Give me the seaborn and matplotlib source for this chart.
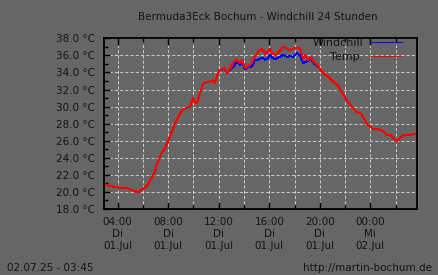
import matplotlib
matplotlib.use("Agg")
import matplotlib.pyplot as plt
import seaborn as sns
import pandas as pd
from matplotlib.ticker import FixedLocator, FuncFormatter

# ---- data (hours since 01.Jul 00:00) ----
hours = [3.00, 3.40, 3.79, 4.19, 4.74, 4.98, 5.30, 5.61, 5.77, 5.93, 6.17, 6.41, 6.57, 6.81,
         6.96, 7.12, 7.36, 7.59, 7.75, 8.15, 8.54, 8.94, 9.17, 9.41, 9.73, 9.97, 10.12, 10.28,
         10.52, 10.76, 11.07, 11.31, 11.55, 11.71, 11.94, 12.10, 12.50, 12.66, 12.89, 13.13,
         13.44, 13.68, 13.84, 14.08, 14.31, 14.63, 14.87, 15.11, 15.43, 15.66, 15.90, 16.06,
         16.29, 16.53, 16.85, 17.09, 17.40, 17.64, 17.88, 18.19, 18.43, 18.67, 18.83, 19.07,
         19.31, 19.56, 19.80, 20.04, 20.44, 20.67, 21.07, 21.39, 21.62, 21.86, 22.10, 22.41,
         22.65, 22.89, 23.20, 23.44, 23.60, 23.76, 24.00, 24.23, 24.63, 25.03, 25.26, 25.58,
         25.82, 26.06, 26.22, 26.46, 26.69, 27.17, 27.56]
temp = [20.9, 20.7, 20.55, 20.5, 20.45, 20.3, 20.15, 19.95, 20.1, 20.3, 20.5, 20.85, 21.4, 21.9,
        22.4, 23.3, 24.15, 24.8, 25.1, 26.5, 28.0, 29.2, 29.6, 29.8, 30.0, 31.0, 30.4, 30.4,
        31.6, 32.7, 32.9, 32.9, 33.1, 32.8, 33.9, 34.3, 34.5, 33.9, 34.4, 35.1,
        35.5, 35.1, 35.5, 34.5, 34.7, 35.1, 35.85, 36.4, 36.8, 36.2, 36.4, 36.8,
        36.2, 36.0, 36.6, 37.0, 36.8, 36.6, 36.8, 36.9, 36.9, 35.6, 36.0, 35.5,
        35.8, 35.2, 34.9, 34.3, 33.7, 33.5, 32.9, 32.55, 31.95, 31.4, 30.8, 30.2,
        29.8, 29.4, 29.2, 28.8, 28.25, 27.85, 27.65, 27.35, 27.35, 27.1, 26.7, 26.7,
        26.3, 26.0, 26.1, 26.5, 26.7, 26.7, 26.8]
windchill = [20.9, 20.7, 20.55, 20.5, 20.45, 20.3, 20.15, 19.95, 20.1, 20.3, 20.5, 20.85, 21.4, 21.9,
             22.4, 23.3, 24.15, 24.8, 25.1, 26.5, 28.0, 29.2, 29.6, 29.8, 30.0, 31.0, 30.4, 30.4,
             31.6, 32.7, 32.9, 32.9, 33.1, 32.8, 33.9, 34.3, 34.4, 33.9, 34.3, 34.7,
             35.2, 34.9, 35.2, 34.4, 34.6, 34.7, 35.5, 35.5, 35.75, 35.5, 35.65, 36.05,
             35.65, 35.6, 35.85, 36.05, 35.85, 35.9, 35.85, 36.25, 36.0, 35.1, 35.2, 35.4,
             35.6, 35.0, 34.8, 34.3, 33.7, 33.5, 32.9, 32.55, 31.95, 31.4, 30.8, 30.2,
             29.8, 29.4, 29.2, 28.8, 28.25, 27.85, 27.65, 27.35, 27.35, 27.1, 26.7, 26.7,
             26.3, 26.0, 26.1, 26.5, 26.7, 26.7, 26.8]

tick_hours = [4, 8, 12, 16, 20, 24]
tick_labels = ["04:00\nDi\n01.Jul", "08:00\nDi\n01.Jul", "12:00\nDi\n01.Jul",
               "16:00\nDi\n01.Jul", "20:00\nDi\n01.Jul", "00:00\nMi\n02.Jul"]
minor_hours = [6, 10, 14, 18, 22, 26]
y_ticks = [18, 20, 22, 24, 26, 28, 30, 32, 34, 36, 38]
y_minor = list(range(18, 39))

title = "Bermuda3Eck Bochum - Windchill 24 Stunden"
stamp = "02.07.25 - 03:45"
url = "http://martin-bochum.de"

# ---- style ----
bg = "#666666"
txt = "#141414"
sns.set_style("ticks")
plt.rcParams["font.family"] = ["DejaVu Sans"]

df = pd.DataFrame({"h": hours, "Temp.": temp, "Windchill": windchill})

fig = plt.figure(figsize=(4.38, 2.75), dpi=100, facecolor=bg)
ax = fig.add_axes([104.3 / 438, 1 - 209 / 275, (417.3 - 104.3) / 438, (209 - 38.3) / 275])
ax.set_facecolor(bg)

sns.lineplot(data=df, x="h", y="Windchill", ax=ax, color="#0000ff", lw=0.72,
             label="Windchill", antialiased=False)
sns.lineplot(data=df, x="h", y="Temp.", ax=ax, color="#ff0000", lw=0.72,
             label="Temp.", antialiased=False)

ax.set_xlim(2.95, 27.71)
ax.set_ylim(18, 38)
ax.set_xlabel("")
ax.set_ylabel("")

ax.xaxis.set_major_locator(FixedLocator(tick_hours))
ax.set_xticklabels(tick_labels)
ax.xaxis.set_minor_locator(FixedLocator(minor_hours))
ax.yaxis.set_major_locator(FixedLocator(y_ticks))
ax.yaxis.set_major_formatter(FuncFormatter(lambda v, p: f"{v:.1f} °C"))
ax.yaxis.set_minor_locator(FixedLocator(y_minor))

gridkw = dict(color="#c8c8c8", linestyle=(0, (3, 2)), linewidth=0.75)
ax.grid(True, which="major", **gridkw)
ax.grid(True, which="minor", axis="x", **gridkw)
ax.set_axisbelow(True)

for s in ax.spines.values():
    s.set_color("black")
    s.set_linewidth(1.3)
    s.set_visible(True)

ax.tick_params(axis="x", which="both", direction="in", top=True, bottom=True,
               colors="black", labelcolor=txt, labelsize=7.5, pad=6)
ax.tick_params(axis="x", which="major", length=5, width=1)
ax.tick_params(axis="x", which="minor", length=3, width=1)
ax.tick_params(axis="y", which="both", direction="in", left=True, right=False,
               colors="black", labelcolor=txt, labelsize=7.5, pad=7)
ax.tick_params(axis="y", which="major", length=4, width=1)
ax.tick_params(axis="y", which="minor", length=3, width=1)
for lab in ax.get_xticklabels():
    lab.set_linespacing(1.25)

leg = ax.legend(loc="upper right", bbox_to_anchor=(0.965, 1.03), frameon=False,
                markerfirst=False, fontsize=8, handlelength=2.9, handletextpad=0.6,
                labelspacing=0.35, borderaxespad=0.0)
for t in leg.get_texts():
    t.set_color(txt)

fig.text(258 / 438, 1 - 17 / 275, title, ha="center", va="center", fontsize=7.5, color=txt)
fig.text(7 / 438, 1 - 268 / 275, stamp, ha="left", va="center", fontsize=7.5, color=txt)
fig.text(432.5 / 438, 1 - 268 / 275, url, ha="right", va="center", fontsize=7.5, color=txt)

fig.savefig("out.png", dpi=100, facecolor=bg)
